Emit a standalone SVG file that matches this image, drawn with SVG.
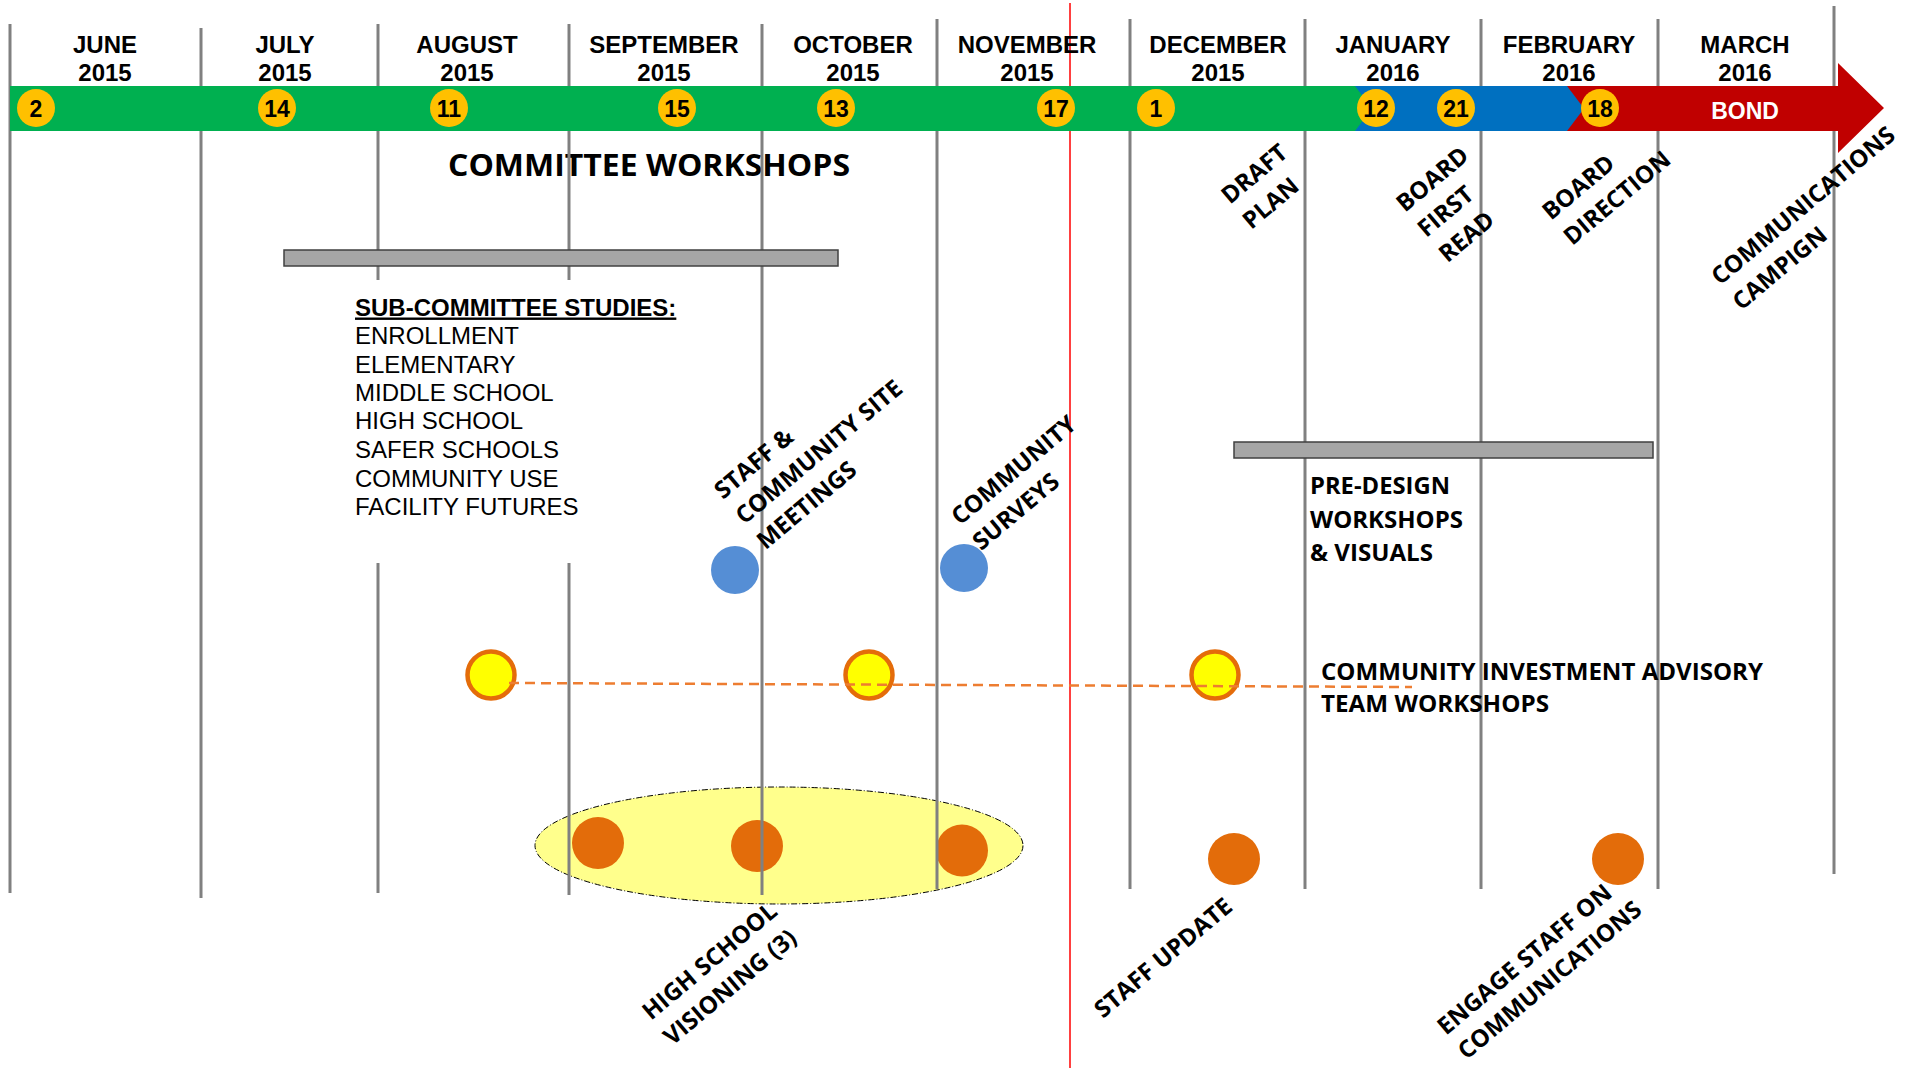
<svg xmlns="http://www.w3.org/2000/svg" width="1911" height="1068" viewBox="0 0 1911 1068">
<style>
.grid{stroke:#808080;stroke-width:3;fill:none}
.mon{font-family:"Liberation Sans",Arial,sans-serif;font-weight:bold;font-size:24px;fill:#000;text-anchor:middle}
.num{font-family:"Liberation Sans",Arial,sans-serif;font-weight:bold;font-size:23px;fill:#000;text-anchor:middle}
.badge{fill:#FFC000}
.lbl{font-family:"Open Sans","Noto Sans",sans-serif;font-weight:bold;font-size:24px;fill:#000}
.list{font-family:"Liberation Sans",Arial,sans-serif;font-size:24px;fill:#000}
.bar{fill:#A6A6A6;stroke:#404040;stroke-width:1.5}
.blue{fill:#558ED5}
.org{fill:#E36C0A}
.yel{fill:#FFFF00;stroke:#E46C0A;stroke-width:4.5}
</style>
<rect width="1911" height="1068" fill="#FFFFFF"/>

<g id="hs-visioning-area">
<ellipse cx="779" cy="845.5" rx="244" ry="58.5" fill="#FFFF8C" stroke="#000" stroke-width="1" stroke-dasharray="6 2 1 2"/>
</g>

<g id="events">
<circle class="org" cx="598" cy="843" r="26"/>
<circle class="org" cx="757" cy="846" r="26"/>
<circle class="org" cx="962" cy="850.5" r="26"/>
<circle class="org" cx="1234" cy="859" r="26"/>
<circle class="org" cx="1618" cy="859" r="26"/>
<circle class="blue" cx="735" cy="570" r="24"/>
<circle class="blue" cx="964" cy="568" r="24"/>
<circle class="yel" cx="491" cy="675" r="23.5"/>
<circle class="yel" cx="869" cy="675" r="23.5"/>
<circle class="yel" cx="1215" cy="675" r="23.5"/>
</g>

<g id="committee-title">
<text class="lbl" x="448" y="176" style="font-size:31px" textLength="402" lengthAdjust="spacingAndGlyphs">COMMITTEE WORKSHOPS</text>
</g>

<g id="gridlines">
<line class="grid" x1="10" y1="24" x2="10" y2="893"/>
<line class="grid" x1="201" y1="28" x2="201" y2="898"/>
<line class="grid" x1="378" y1="24" x2="378" y2="280"/>
<line class="grid" x1="378" y1="563" x2="378" y2="893"/>
<line class="grid" x1="569" y1="24" x2="569" y2="280"/>
<line class="grid" x1="569" y1="563" x2="569" y2="895"/>
<line class="grid" x1="762" y1="24" x2="762" y2="895"/>
<line class="grid" x1="937" y1="19" x2="937" y2="889"/>
<line class="grid" x1="1130" y1="19" x2="1130" y2="889"/>
<line class="grid" x1="1305" y1="19" x2="1305" y2="889"/>
<line class="grid" x1="1481" y1="19" x2="1481" y2="889"/>
<line class="grid" x1="1658" y1="19" x2="1658" y2="889"/>
<line class="grid" x1="1834" y1="6" x2="1834" y2="874"/>
<line x1="1070" y1="3" x2="1070" y2="1068" stroke="#FF0000" stroke-width="1.5"/>
</g>

<g id="connectors">
<line x1="509" y1="683" x2="1412" y2="687" stroke="#ED7D31" stroke-width="2.5" stroke-dasharray="10 6"/>
</g>

<g id="timeline">
<polygon points="1560,86 1838,86 1838,63 1884,108 1838,153 1838,131 1560,131" fill="#C00000"/>
<polygon points="1350,86 1567,86 1584,108.5 1567,131 1350,131" fill="#0070C0"/>
<polygon points="10,86 1355,86 1372,108.5 1355,131 10,131" fill="#00B050"/>
<text x="1745" y="118.5" font-family="Liberation Sans, Arial, sans-serif" font-weight="bold" font-size="23" fill="#FFFFFF" text-anchor="middle">BOND</text>
</g>

<g id="dates">
<circle class="badge" cx="36" cy="108" r="19"/><text class="num" x="36" y="116.5">2</text>
<circle class="badge" cx="277" cy="108" r="19"/><text class="num" x="277" y="116.5">14</text>
<circle class="badge" cx="449" cy="108" r="19"/><text class="num" x="449" y="116.5">11</text>
<circle class="badge" cx="677" cy="108" r="19"/><text class="num" x="677" y="116.5">15</text>
<circle class="badge" cx="836" cy="108" r="19"/><text class="num" x="836" y="116.5">13</text>
<circle class="badge" cx="1056" cy="108" r="19"/><text class="num" x="1056" y="116.5">17</text>
<circle class="badge" cx="1156" cy="108" r="19"/><text class="num" x="1156" y="116.5">1</text>
<circle class="badge" cx="1376" cy="108" r="19"/><text class="num" x="1376" y="116.5">12</text>
<circle class="badge" cx="1456" cy="108" r="19"/><text class="num" x="1456" y="116.5">21</text>
<circle class="badge" cx="1600" cy="108" r="19"/><text class="num" x="1600" y="116.5">18</text>
</g>

<g id="months">
<text class="mon" x="105" y="52.5">JUNE</text><text class="mon" x="105" y="81">2015</text>
<text class="mon" x="285" y="52.5">JULY</text><text class="mon" x="285" y="81">2015</text>
<text class="mon" x="467" y="52.5">AUGUST</text><text class="mon" x="467" y="81">2015</text>
<text class="mon" x="664" y="52.5">SEPTEMBER</text><text class="mon" x="664" y="81">2015</text>
<text class="mon" x="853" y="52.5">OCTOBER</text><text class="mon" x="853" y="81">2015</text>
<text class="mon" x="1027" y="52.5">NOVEMBER</text><text class="mon" x="1027" y="81">2015</text>
<text class="mon" x="1218" y="52.5">DECEMBER</text><text class="mon" x="1218" y="81">2015</text>
<text class="mon" x="1393" y="52.5">JANUARY</text><text class="mon" x="1393" y="81">2016</text>
<text class="mon" x="1569" y="52.5">FEBRUARY</text><text class="mon" x="1569" y="81">2016</text>
<text class="mon" x="1745" y="52.5">MARCH</text><text class="mon" x="1745" y="81">2016</text>
</g>

<g id="sub-committee-studies">
<rect class="bar" x="284" y="250" width="554" height="16"/>
<text class="list" x="355" y="315.5" font-weight="bold" text-decoration="underline">SUB-COMMITTEE STUDIES:</text>
<text class="list" x="355" y="344">ENROLLMENT</text>
<text class="list" x="355" y="372.5">ELEMENTARY</text>
<text class="list" x="355" y="401">MIDDLE SCHOOL</text>
<text class="list" x="355" y="429">HIGH SCHOOL</text>
<text class="list" x="355" y="458">SAFER SCHOOLS</text>
<text class="list" x="355" y="486.5">COMMUNITY USE</text>
<text class="list" x="355" y="515">FACILITY FUTURES</text>
</g>

<g id="pre-design">
<rect class="bar" x="1234" y="442" width="419" height="16"/>
<text class="lbl" x="1310" y="494" textLength="140" lengthAdjust="spacingAndGlyphs">PRE-DESIGN</text>
<text class="lbl" x="1310" y="528" textLength="153" lengthAdjust="spacingAndGlyphs">WORKSHOPS</text>
<text class="lbl" x="1310" y="561" textLength="123" lengthAdjust="spacingAndGlyphs">&amp; VISUALS</text>
</g>

<g id="ciat">
<text class="lbl" x="1321" y="679.5" textLength="442" lengthAdjust="spacingAndGlyphs">COMMUNITY INVESTMENT ADVISORY</text>
<text class="lbl" x="1321" y="712" textLength="228" lengthAdjust="spacingAndGlyphs">TEAM WORKSHOPS</text>
</g>

<g id="site-meetings"><text class="lbl" transform="translate(723,500) rotate(-40)"><tspan x="0" y="0">STAFF &amp;</tspan><tspan x="0" dy="33">COMMUNITY SITE</tspan><tspan x="0" dy="33">MEETINGS</tspan></text></g>
<g id="surveys"><text class="lbl" transform="translate(960,526) rotate(-40)"><tspan x="0" y="0">COMMUNITY</tspan><tspan x="0" dy="33">SURVEYS</tspan></text></g>
<g id="hs-visioning"><text class="lbl" transform="translate(651,1021) rotate(-40)"><tspan x="0" y="0">HIGH SCHOOL</tspan><tspan x="0" dy="33">VISIONING (3)</tspan></text></g>
<g id="staff-update"><text class="lbl" transform="translate(1103,1019) rotate(-40)">STAFF UPDATE</text></g>
<g id="engage-staff"><text class="lbl" transform="translate(1446,1036) rotate(-40)"><tspan x="0" y="0">ENGAGE STAFF ON</tspan><tspan x="0" dy="32">COMMUNICATIONS</tspan></text></g>
<g id="draft-plan"><text class="lbl" transform="translate(1230,205) rotate(-40)"><tspan x="0" y="0">DRAFT</tspan><tspan x="0" dy="33">PLAN</tspan></text></g>
<g id="board-first-read"><text class="lbl" transform="translate(1405,213) rotate(-40)"><tspan x="0" y="0">BOARD</tspan><tspan x="0" dy="33">FIRST</tspan><tspan x="0" dy="33">READ</tspan></text></g>
<g id="board-direction"><text class="lbl" transform="translate(1551,221) rotate(-40)"><tspan x="0" y="0">BOARD</tspan><tspan x="0" dy="33">DIRECTION</tspan></text></g>
<g id="comm-campaign"><text class="lbl" transform="translate(1720,286) rotate(-40)"><tspan x="0" y="0">COMMUNICATIONS</tspan><tspan x="0" dy="33">CAMPIGN</tspan></text></g>
</svg>
